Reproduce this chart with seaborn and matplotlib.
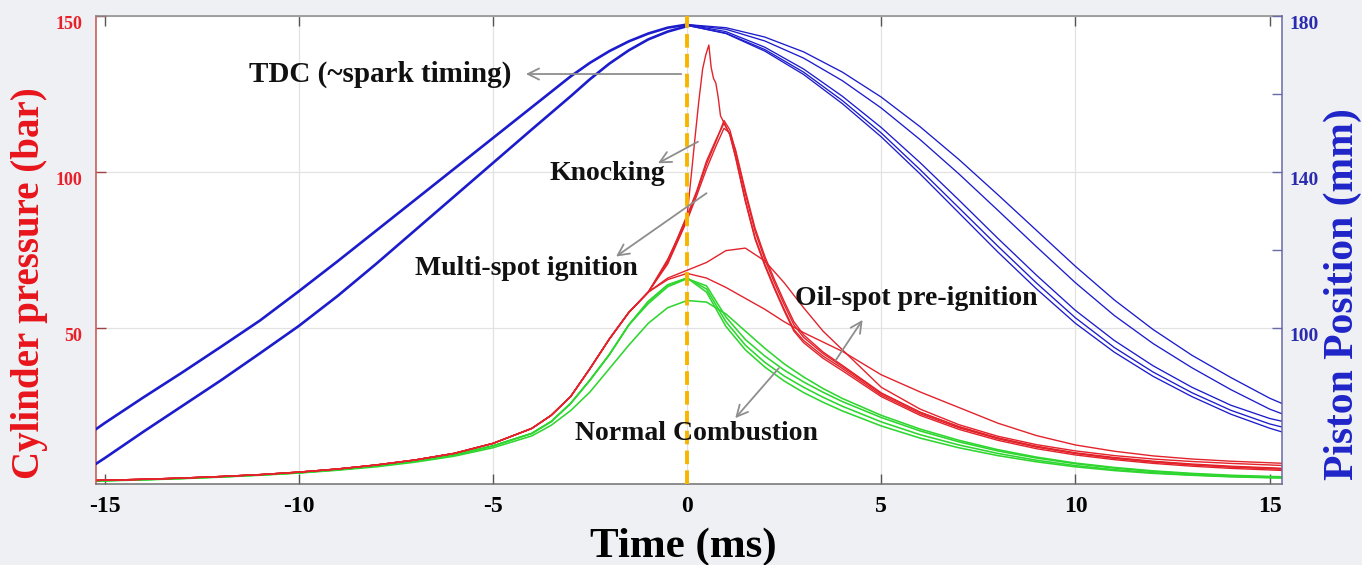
import numpy as np
import pandas as pd
import matplotlib
matplotlib.use("Agg")
import matplotlib.pyplot as plt
import seaborn as sns

# ---------------- data ----------------
TDC_T = 0.0

# piston position (mm) before TDC
t_pist_left = [-15.4, -15, -14, -13, -12, -11, -10, -9, -8, -7, -6, -5, -4, -3, -2.5, -2, -1.5, -1, -0.5, 0]
pist_left_a = [72.8, 75.6, 82.2, 88.6, 95.2, 101.9, 109.4, 117.1, 125.0, 132.9, 140.8, 148.7, 156.6, 164.5,
               168.0, 171.0, 173.5, 175.5, 177.0, 177.8]
pist_left_b = [64.0, 66.6, 73.4, 80.0, 86.6, 93.5, 100.5, 108.2, 116.5, 125.1, 133.7, 142.3, 150.9, 159.4,
               163.8, 167.8, 171.2, 174.0, 176.0, 177.4]

# piston position (mm) after TDC
t_pist_right = [0, 1, 2, 3, 4, 5, 6, 7, 8, 9, 10, 11, 12, 13, 14, 15, 15.4]
pist_r1 = [177.6, 175.5, 171.0, 165.0, 157.5, 149.0, 139.5, 129.5, 119.5, 110.0, 101.2, 93.8, 87.6, 82.4, 77.9, 74.3, 73.1]
pist_r2 = [177.6, 175.6, 171.4, 165.6, 158.3, 150.0, 140.6, 130.8, 121.0, 111.5, 102.6, 95.0, 88.7, 83.4, 78.9, 75.4, 74.4]
pist_r3 = [177.8, 176.0, 172.0, 166.4, 159.4, 151.4, 142.4, 132.8, 123.0, 113.5, 104.5, 96.8, 90.3, 84.8, 80.2, 76.8, 75.9]
pist_r4 = [177.8, 176.6, 173.6, 169.2, 163.4, 156.4, 148.3, 139.5, 130.2, 120.8, 111.6, 103.2, 96.0, 89.8, 84.2, 79.2, 77.7]
pist_r5 = [177.8, 177.0, 174.6, 170.8, 165.6, 159.2, 151.6, 143.2, 134.2, 125.0, 115.8, 107.2, 99.6, 93.0, 87.3, 82.0, 80.3]

# cylinder pressure (bar): normal combustion (green) and oil-spot pre-ignition (red)
t_p = [-15.4, -15, -14, -13, -12, -11, -10, -9, -8, -7, -6, -5, -4, -3.5, -3, -2.5, -2, -1.5, -1, -0.5, 0,
       0.5, 1, 1.5, 2, 2.5, 3, 3.5, 4, 5, 6, 7, 8, 9, 10, 11, 12, 13, 14, 15, 15.4]
green_rise = [1.0, 1.1, 1.4, 1.8, 2.3, 2.9, 3.6, 4.6, 5.8, 7.3, 9.3, 12.2, 16.2, 20.0, 25.8, 33.3, 41.5, 51.0,
              58.5, 63.8, 66.0]
normal_1 = green_rise + [61.5, 50.5, 43.0, 37.5, 33.0, 29.3, 26.2, 23.4, 18.6, 14.7, 11.6, 9.1, 7.1, 5.5, 4.3,
                         3.4, 2.8, 2.3, 2.0, 1.9]
normal_2 = green_rise + [62.5, 52.0, 44.5, 39.0, 34.6, 31.0, 27.8, 24.9, 19.9, 15.8, 12.5, 9.8, 7.6, 5.9, 4.6,
                         3.6, 2.9, 2.4, 2.1, 2.0]
normal_3 = green_rise[:-3] + [57.8, 63.2, 65.8] + [63.5, 53.5, 46.3, 41.0, 36.5, 32.7, 29.4, 26.4, 21.3, 17.0,
                                                   13.5, 10.6, 8.3, 6.5, 5.1, 4.0, 3.2, 2.6, 2.3, 2.2]
normal_4 = [0.9, 1.0, 1.3, 1.7, 2.2, 2.8, 3.5, 4.4, 5.5, 7.0, 8.9, 11.6, 15.4, 18.8, 23.5, 29.5, 37.0, 44.5,
            51.5, 56.5, 58.8, 58.3, 54.5, 49.0, 43.5, 38.5, 34.3, 30.6, 27.4, 22.0, 17.6, 14.0, 11.0, 8.6,
            6.7, 5.3, 4.2, 3.4, 2.8, 2.4, 2.3]

red_rise = [1.1, 1.2, 1.5, 1.9, 2.4, 3.0, 3.8, 4.8, 6.1, 7.7, 9.8, 13.0, 17.8, 22.0, 28.0, 37.0, 46.5, 55.0, 61.5]
oil_1 = red_rise + [66.0, 68.5, 71.0, 74.8, 75.6, 71.5, 64.5, 56.5, 49.0, 43.0, 31.0, 24.0, 19.0, 15.3, 12.6,
                    10.6, 9.1, 8.0, 7.2, 6.6, 6.1, 5.9]
oil_2 = red_rise + [65.5, 67.5, 66.0, 63.0, 59.5, 56.0, 52.0, 48.5, 45.5, 42.5, 35.0, 29.5, 24.5, 19.5, 15.5,
                    12.5, 10.5, 9.0, 8.0, 7.3, 6.8, 6.6]

# multi-spot ignition (red)
t_multi = [-15.4, -15, -14, -13, -12, -11, -10, -9, -8, -7, -6, -5, -4, -3.5, -3, -2.5, -2, -1.5, -1,
           -0.5, 0, 0.25, 0.5, 0.75, 0.95, 1.1, 1.25, 1.5, 1.75, 2, 2.25, 2.5, 2.75, 3, 3.5, 4,
           5, 6, 7, 8, 9, 10, 11, 12, 13, 14, 15, 15.4]
multi_1 = red_rise + [71.5, 86.0, 94.0, 103.5, 110.5, 115.6, 112.0, 105.0, 91.0, 79.0, 70.5, 63.0, 56.0, 49.5,
                      46.0, 41.0, 37.0, 28.5, 22.5, 18.0, 14.5, 11.8, 9.8, 8.3, 7.1, 6.2, 5.5, 5.0, 4.8]
multi_2 = red_rise + [71.0, 85.0, 93.5, 102.5, 110.0, 116.5, 113.5, 106.5, 93.0, 81.0, 72.0, 64.5, 57.5, 51.0,
                      47.0, 41.8, 37.6, 29.0, 23.0, 18.4, 14.8, 12.1, 10.0, 8.5, 7.3, 6.4, 5.7, 5.2, 5.0]
multi_3 = red_rise + [70.5, 84.5, 92.5, 101.0, 108.5, 114.0, 112.5, 107.0, 94.0, 82.0, 73.0, 65.5, 58.5, 52.0,
                      47.8, 42.3, 38.0, 29.2, 23.0, 18.3, 14.6, 11.9, 9.8, 8.2, 7.0, 6.1, 5.4, 4.9, 4.7]

# knocking (red)
t_knock = [-15.4, -15, -14, -13, -12, -11, -10, -9, -8, -7, -6, -5, -4, -3.5, -3, -2.5, -2, -1.5, -1,
           -0.5, -0.25, 0, 0.1, 0.2, 0.3, 0.4, 0.48, 0.56, 0.62, 0.68, 0.74, 0.8, 0.86, 0.95, 1.1, 1.25,
           1.5, 1.75, 2, 2.25, 2.5, 2.75, 3, 3.5, 4, 5, 6, 7, 8, 9, 10, 11, 12, 13, 14, 15, 15.4]
knock = red_rise + [72.0, 78.5, 86.0, 98.0, 110.5, 122.5, 133.0, 137.5, 140.7, 133.5, 130.0, 128.5, 124.0,
                    118.0, 115.8, 112.0, 104.5, 90.5, 78.5, 70.0, 62.5, 55.5, 49.0, 45.3, 40.3, 36.3, 28.0,
                    22.0, 17.5, 14.0, 11.3, 9.3, 7.8, 6.6, 5.7, 5.0, 4.5, 4.3]

x_ticks = [-15, -10, -5, 0, 5, 10, 15]
x_tick_labels = ["-15", "-10", "-5", "0", "5", "10", "15"]
p_ticks = [50, 100, 150]
p_tick_labels = ["50", "100", "150"]
s_ticks = [100, 120, 140, 160, 180]
s_tick_labels = ["100", "", "140", "", "180"]

# ---------------- style ----------------
sns.set_style("white")
plt.rcParams["font.family"] = ["Liberation Serif", "DejaVu Serif"]
plt.rcParams["font.weight"] = "bold"
plt.rcParams["axes.labelweight"] = "bold"

BLUE = "#1c1ccc"
RED = "#e3232b"
GREEN = "#2fd62f"
GREY_ARROW = "#8e8e8e"
XLIM = (-15.22, 15.32)


def frame(t, v, name):
    return pd.DataFrame({"t": t, "v": v, "curve": name})


fig = plt.figure(figsize=(13.62, 5.65), dpi=100, facecolor="#eef0f3")
ax = fig.add_axes([0.0705, 0.1434, 0.8708, 0.8283])
ax.set_facecolor("white")

# pressure curves
df_green = pd.concat([frame(t_p, normal_1, "n1"), frame(t_p, normal_2, "n2"),
                      frame(t_p, normal_3, "n3"), frame(t_p, normal_4, "n4")])
df_red = pd.concat([frame(t_p, oil_1, "o1"), frame(t_p, oil_2, "o2"),
                    frame(t_multi, multi_1, "m1"), frame(t_multi, multi_2, "m2"),
                    frame(t_multi, multi_3, "m3"), frame(t_knock, knock, "k")])
sns.lineplot(data=df_green, x="t", y="v", units="curve", estimator=None, sort=False,
             color=GREEN, lw=1.15, ax=ax, legend=False)
sns.lineplot(data=df_red, x="t", y="v", units="curve", estimator=None, sort=False,
             color=RED, lw=1.0, ax=ax, legend=False)

ax.set_xlim(*XLIM)
ax.set_ylim(0, 150)
ax.set_xticks(x_ticks, labels=x_tick_labels)
ax.set_yticks(p_ticks, labels=p_tick_labels, va="top")
ax.grid(True, color="#e2e2e2", lw=0.9)
ax.set_axisbelow(True)
gl = ax.get_xgridlines()
gl[0].set_visible(False)
gl[-1].set_visible(False)

ax.tick_params(axis="x", direction="in", length=7, width=1.0, color="#555555", top=True, bottom=True,
               labelsize=17, pad=9, labelcolor="black")
ax.tick_params(axis="y", direction="in", length=7, width=1.0, color="#a04040",
               labelsize=13, pad=10, labelcolor="#e8202a", right=False)
ax.set_xlabel("Time (ms)", fontsize=31, color="black", va="center")
ax.xaxis.set_label_coords(0.495, -0.135)
ax.set_ylabel("Cylinder pressure (bar)", fontsize=28, color="#e8141b", va="center")
ax.yaxis.set_label_coords(-0.0557, 0.4295)
ax.spines["left"].set_color("#c45050")
ax.spines["top"].set_color("#8a8a8a")
ax.spines["bottom"].set_color("#707070")
ax.spines["right"].set_visible(False)
for s in ax.spines.values():
    s.set_linewidth(1.1)

# piston position on twin axis
ax2 = ax.twinx()
df_pl = pd.concat([frame(t_pist_left, pist_left_a, "a"), frame(t_pist_left, pist_left_b, "b")])
df_pr = pd.concat([frame(t_pist_right, pist_r1, "r1"), frame(t_pist_right, pist_r2, "r2"),
                   frame(t_pist_right, pist_r3, "r3"), frame(t_pist_right, pist_r4, "r4"),
                   frame(t_pist_right, pist_r5, "r5")])
sns.lineplot(data=df_pl, x="t", y="v", units="curve", estimator=None, sort=False,
             color=BLUE, lw=1.9, ax=ax2, legend=False)
sns.lineplot(data=df_pr, x="t", y="v", units="curve", estimator=None, sort=False,
             color=BLUE, lw=0.95, ax=ax2, legend=False)
ax2.set_ylim(60, 180)
ax2.set_xlim(*XLIM)
ax2.set_yticks(s_ticks, labels=s_tick_labels, va="top")
ax2.tick_params(axis="y", direction="in", length=7, width=1.0, color="#6a6aa8",
                labelsize=14, pad=5, labelcolor="#2b2bb0")
ax2.set_ylabel("Piston Position (mm)", fontsize=30, color="#1f24c8", rotation=90, va="center")
ax2.yaxis.set_label_coords(1.0515, 0.405)
ax2.set_xlabel("")
for k in ["left", "top", "bottom"]:
    ax2.spines[k].set_visible(False)
ax2.spines["right"].set_color("#6a6aa8")
ax2.spines["right"].set_linewidth(1.1)

# TDC line
ax2.axvline(TDC_T, color="#f7b500", lw=2.8, ls=(0, (3.5, 1.6)), zorder=6)

# annotations (pressure-axis data coordinates)
ann = dict(fontsize=20, fontweight="bold", color="#111111", ha="center", va="center",
           transform=ax.transData, zorder=8)
arrow = dict(arrowstyle="->", color=GREY_ARROW, lw=1.3, mutation_scale=20, shrinkA=0, shrinkB=0)

ax2.text(-7.9, 131.4, "TDC (~spark timing)", **{**ann, "fontsize": 21})
ax2.annotate("", xy=(-4.15, 131.4), xytext=(-0.15, 131.4), xycoords=ax.transData,
             textcoords=ax.transData, arrowprops=arrow, zorder=8)
ax2.text(-2.05, 99.4, "Knocking", **ann)
ax2.annotate("", xy=(-0.75, 102.8), xytext=(0.28, 109.7), xycoords=ax.transData,
             textcoords=ax.transData, arrowprops=arrow, zorder=8)
ax2.text(-4.13, 69.2, "Multi-spot ignition", **ann)
ax2.annotate("", xy=(-1.83, 72.9), xytext=(0.5, 93.2), xycoords=ax.transData,
             textcoords=ax.transData, arrowprops=arrow, zorder=8)
ax2.text(5.9, 59.6, "Oil-spot pre-ignition", **ann)
ax2.annotate("", xy=(4.52, 52.6), xytext=(3.83, 39.7), xycoords=ax.transData,
             textcoords=ax.transData, arrowprops=arrow, zorder=8)
ax2.text(0.25, 16.3, "Normal Combustion", **ann)
ax2.annotate("", xy=(1.24, 21.1), xytext=(2.36, 37.1), xycoords=ax.transData,
             textcoords=ax.transData, arrowprops=arrow, zorder=8)

fig.savefig("out.png", dpi=100, facecolor=fig.get_facecolor())
